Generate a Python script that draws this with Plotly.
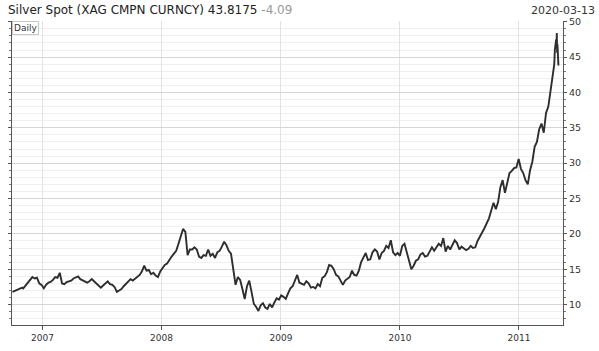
import calendar
import numpy as np
import pandas as pd
import plotly.graph_objects as go

# ---------------- data (weekly readings, Friday closes) ----------------
months = [
    "2006-10", "2006-11", "2006-12",
    "2007-01", "2007-02", "2007-03", "2007-04", "2007-05", "2007-06",
    "2007-07", "2007-08", "2007-09", "2007-10", "2007-11", "2007-12",
    "2008-01", "2008-02", "2008-03", "2008-04", "2008-05", "2008-06",
    "2008-07", "2008-08", "2008-09", "2008-10", "2008-11", "2008-12",
    "2009-01", "2009-02", "2009-03", "2009-04", "2009-05", "2009-06",
    "2009-07", "2009-08", "2009-09", "2009-10", "2009-11", "2009-12",
    "2010-01", "2010-02", "2010-03", "2010-04", "2010-05", "2010-06",
    "2010-07", "2010-08", "2010-09", "2010-10", "2010-11", "2010-12",
    "2011-01", "2011-02", "2011-03", "2011-04",
]
weekly_values = [
    [11.8, 12.1, 12.4],
    [12.3, 12.7, 13.0, 13.5],
    [13.9, 13.7, 13.8, 13.0, 12.8],
    [12.3, 12.8, 13.1, 13.2],
    [13.5, 13.9, 13.8, 14.5],
    [13.0, 12.9, 13.2, 13.3, 13.4],
    [13.7, 13.9, 14.0, 13.6],
    [13.4, 13.2, 13.1, 13.3],
    [13.6, 13.3, 13.0, 12.7, 12.4],
    [12.7, 13.0, 13.3, 12.9],
    [12.8, 12.5, 11.8, 12.0, 12.2],
    [12.6, 12.9, 13.3, 13.6],
    [13.4, 13.7, 13.9, 14.2],
    [14.7, 15.5, 14.8, 14.9, 14.3],
    [14.5, 14.1, 13.9, 14.7],
    [15.1, 15.6, 15.8, 16.4],
    [16.8, 17.2, 17.6, 18.6, 19.8],
    [20.7, 20.3, 17.0, 17.8],
    [17.8, 18.1, 17.8, 16.8],
    [16.6, 17.0, 16.9, 17.8, 16.9],
    [17.2, 16.6, 17.4, 17.6],
    [18.2, 18.9, 18.4, 17.6],
    [17.2, 15.0, 12.8, 13.9, 13.5],
    [12.2, 10.8, 12.6, 13.4],
    [11.8, 10.1, 9.7, 9.1, 9.9],
    [10.2, 9.6, 9.4, 10.1],
    [9.6, 10.3, 10.9, 10.7],
    [11.3, 11.1, 10.8, 11.6, 12.3],
    [12.6, 13.4, 14.2, 13.1],
    [12.9, 12.8, 13.3, 13.0],
    [12.4, 12.5, 12.3, 12.9],
    [12.6, 13.8, 14.0, 14.6, 15.6],
    [15.5, 15.0, 14.2, 14.0],
    [13.4, 12.8, 13.4, 13.7, 13.9],
    [14.8, 14.2, 14.1, 14.8],
    [16.0, 16.6, 17.3, 16.3],
    [16.4, 17.4, 17.8, 17.5, 16.4],
    [17.3, 17.6, 18.3, 18.0],
    [19.1, 17.4, 17.0, 17.3],
    [16.9, 18.3, 18.6, 17.3, 16.2],
    [15.0, 15.5, 16.2, 16.4],
    [17.1, 17.3, 16.8, 16.9],
    [17.6, 18.1, 17.6, 18.1, 18.6],
    [18.3, 19.4, 17.5, 18.3],
    [17.8, 18.4, 19.1, 18.7],
    [17.8, 18.2, 18.0, 17.7, 17.9],
    [18.3, 18.0, 18.1, 19.0],
    [19.7, 20.2, 20.8, 21.5],
    [22.2, 23.3, 24.4, 23.5, 24.5],
    [26.6, 27.6, 25.8, 27.0],
    [28.6, 28.9, 29.3, 29.4, 30.6],
    [29.2, 28.6, 27.6, 27.0],
    [29.0, 30.2, 32.3, 33.0],
    [34.8, 35.6, 34.3, 37.1],
    [38.0, 40.3, 42.5],
]
# final daily readings
last_dates = ["2011-04-18", "2011-04-19", "2011-04-20", "2011-04-21", "2011-04-25",
              "2011-04-26", "2011-04-27", "2011-04-28", "2011-04-29", "2011-05-02"]
last_values = [43.0, 43.9, 44.8, 46.0, 47.5, 46.5, 48.4, 45.6, 46.8, 43.82]

year_ticks = ["2007-01-01", "2008-01-01", "2009-01-01", "2010-01-01", "2011-01-01"]
year_labels = ["2007", "2008", "2009", "2010", "2011"]
price_ticks = [10, 15, 20, 25, 30, 35, 40, 45, 50]

title_text = "Silver Spot (XAG CMPN CURNCY) 43.8175"
change_text = "-4.09"
date_text = "2020-03-13"
freq_text = "Daily"

# ---------------- build series ----------------
dates, values = [], []
for m, vals in zip(months, weekly_values):
    y, mo = map(int, m.split("-"))
    start = pd.Timestamp(y, mo, 1)
    end = pd.Timestamp(y, mo, calendar.monthrange(y, mo)[1])
    if m == "2011-04":
        end = pd.Timestamp("2011-04-15")
    fr = pd.date_range(start, end, freq="W-FRI")
    if len(fr) != len(vals):
        fr = pd.date_range(start, end, periods=len(vals))
    dates.extend(list(fr))
    values.extend(vals)
dates.extend(pd.to_datetime(last_dates))
values.extend(last_values)

fig = go.Figure()
fig.add_trace(go.Scatter(
    x=dates, y=values, mode="lines",
    line=dict(color="#2e2e2e", width=1.9),
    hoverinfo="skip", showlegend=False,
))

font = "DejaVu Sans, Verdana, sans-serif"
fig.update_layout(
    width=599, height=351,
    margin=dict(l=8, r=36, t=21, b=17),
    paper_bgcolor="white", plot_bgcolor="white",
    font=dict(family=font, color="#333333"),
    xaxis=dict(
        range=["2006-09-29 12:00", "2011-05-16"],
        tickvals=year_ticks, ticktext=year_labels,
        tickfont=dict(size=9, color="#333333"),
        ticks="outside", ticklen=4, tickcolor="#555555",
        showline=True, linecolor="#555555", linewidth=1,
        showgrid=True, gridcolor="#e2e2e2", gridwidth=1,
        zeroline=False, fixedrange=True,
    ),
    yaxis=dict(
        side="right",
        range=[7.12, 50.1],
        tickvals=price_ticks,
        tickfont=dict(size=9.5, color="#333333"),
        ticks="outside", ticklen=3, tickcolor="#555555",
        showline=True, linecolor="#555555", linewidth=1,
        mirror="allticks",
        showgrid=True, gridcolor="#d6d6d6", gridwidth=1,
        minor=dict(dtick=1, tick0=0, showgrid=True, gridcolor="#f0f0f0",
                   ticks="outside", ticklen=2, tickcolor="#777777"),
        zeroline=False, fixedrange=True,
    ),
    annotations=[
        dict(xref="paper", yref="paper", x=-0.01, y=1.0, yshift=11,
             xanchor="left", yanchor="middle", showarrow=False,
             text=f"{title_text} <span style='color:#999999'>{change_text}</span>",
             font=dict(size=12, color="#222222", family=font)),
        dict(xref="paper", yref="paper", x=1.0, xshift=34, y=1.0, yshift=11,
             xanchor="right", yanchor="middle", showarrow=False,
             text=date_text, font=dict(size=11, color="#333333", family=font)),
        dict(xref="paper", yref="paper", x=0, y=1, xanchor="left", yanchor="top",
             showarrow=False, text=freq_text,
             font=dict(size=9, color="#333333", family=font),
             bgcolor="white", bordercolor="#c8c8c8", borderwidth=1, borderpad=1,
             xshift=0, yshift=0),
    ],
)

fig.write_html("out.html")
